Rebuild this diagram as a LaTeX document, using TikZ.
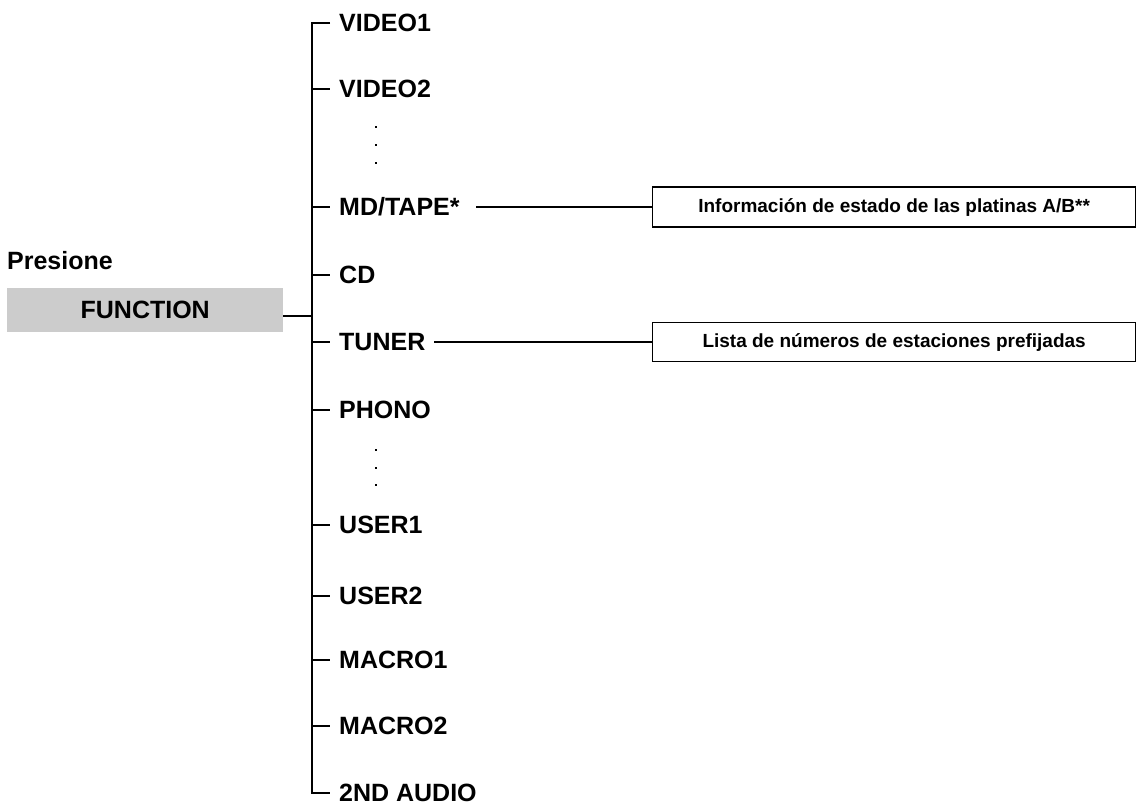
\documentclass[tikz,border=0pt]{standalone}
\usepackage{fontspec}
\setmainfont{Liberation Sans}
\begin{document}
\begin{tikzpicture}[x=1pt,y=-1pt,
  lbl/.style={anchor=west,inner sep=0pt,font=\fontsize{25}{28}\selectfont\bfseries},
  info/.style={draw,line width=1.3pt,inner sep=0pt,minimum height=40pt,font=\fontsize{19}{22}\selectfont\bfseries},
  ln/.style={line width=1.3pt},
  dot/.style={fill,inner sep=0pt,minimum size=2.4pt}]
\useasboundingbox (0,0) rectangle (1148,807);
\node[anchor=west,inner sep=0pt,font=\fontsize{25}{28}\selectfont\bfseries] (pres) at (7,261) {Presione};
\node[fill=black!20,minimum width=276pt,minimum height=44pt,inner sep=0pt,anchor=west,font=\fontsize{25}{28}\selectfont\bfseries] (fn) at (7,310) {FUNCTION};
\coordinate (top) at (312,23);
\coordinate (bot) at (312,793);
\coordinate (fj) at (312,316);
\draw[ln] (fn.east|-fj) -- (fj);
\draw[ln] (330,23) -- (top) -- (bot) -- (330,793);
\foreach \n/\t/\y in {v1/VIDEO1/23, v2/VIDEO2/89, md/MD\slash TAPE*/207, cd/CD/275, tu/TUNER/342, ph/PHONO/410, u1/USER1/525, u2/USER2/596, m1/MACRO1/660, m2/MACRO2/726, au/2ND AUDIO/793}{
  \node[lbl] (\n) at (339,\y) {\t};
  \draw[ln] (312,\y) -- (330,\y);
}
\foreach \y [count=\i] in {127,145,163} \node[dot] (da\i) at (376,\y) {};
\foreach \y [count=\i] in {450,468,485} \node[dot] (db\i) at (376,\y) {};
\node[info,minimum width=483pt,anchor=west] (b1) at (652,207) {Información de estado de las platinas A/B**};
\node[info,minimum width=483pt,anchor=west,minimum height=39pt] (b2) at (652,342) {Lista de números de estaciones prefijadas};
\coordinate (c1) at (476,207);
\coordinate (c2) at (434,342);
\draw[ln] (c1) -- (b1.west);
\draw[ln] (c2) -- (b2.west);
\end{tikzpicture}
\end{document}
